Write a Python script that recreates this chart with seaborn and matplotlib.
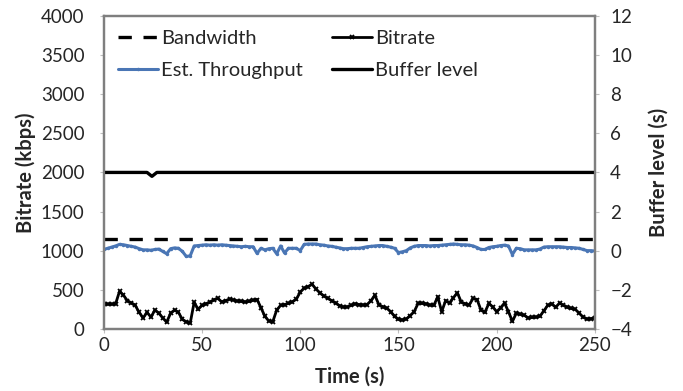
import numpy as np
import pandas as pd
import matplotlib
matplotlib.use("Agg")
import matplotlib.pyplot as plt
import seaborn as sns
from matplotlib.lines import Line2D

# ===== data =====
time_s = list(range(0, 251, 2))

bitrate = [315, 315, 315, 320, 480, 430, 360, 330, 300, 210, 140, 210, 150, 240, 200, 140,
           85, 200, 240, 210, 120, 90, 75, 340, 250, 300, 320, 340, 370, 390, 345, 360,
           380, 370, 355, 350, 345, 350, 365, 375, 270, 160, 100, 90, 240, 300, 310, 325,
           345, 380, 470, 520, 540, 570, 510, 460, 420, 390, 360, 330, 295, 280, 280, 300,
           320, 310, 305, 310, 360, 430, 310, 280, 265, 220, 160, 120, 115, 125, 170, 220,
           325, 325, 320, 305, 300, 410, 220, 360, 330, 400, 460, 340, 320, 305, 390, 375,
           240, 210, 325, 280, 220, 270, 330, 220, 95, 200, 185, 175, 140, 145, 150, 160,
           230, 300, 320, 275, 330, 300, 275, 260, 250, 200, 150, 125, 130, 140]

est_throughput = [1015, 1030, 1045, 1060, 1080, 1075, 1065, 1055, 1045, 1025, 1010, 1010,
                  1005, 1015, 1020, 990, 960, 1025, 1035, 1030, 990, 925, 935, 1060, 1065,
                  1070, 1075, 1070, 1075, 1070, 1075, 1070, 1065, 1060, 1055, 1050, 1055,
                  1050, 1050, 965, 1030, 1010, 1025, 1030, 960, 1060, 970, 1030, 1030, 1030,
                  1000, 1080, 1085, 1085, 1085, 1075, 1070, 1060, 1055, 1045, 1035, 1025,
                  1025, 1030, 1030, 1030, 1040, 1050, 1055, 1060, 1065, 1065, 1055, 1045,
                  1030, 975, 985, 1000, 1035, 1055, 1065, 1065, 1065, 1060, 1065, 1065,
                  1070, 1075, 1080, 1085, 1080, 1075, 1075, 1070, 1060, 1040, 1015, 1015,
                  1040, 1050, 1055, 1065, 1070, 1060, 950, 1030, 1025, 1010, 1010, 1010,
                  1010, 1020, 1045, 1050, 1050, 1050, 1050, 1045, 1040, 1040, 1035, 1030,
                  1015, 1000, 1000, 995]

bw_time = [0, 250]
bandwidth = [1150, 1150]

buf_time = [0, 22, 24.5, 27, 250]
buffer_level = [4, 4, 3.8, 4, 4]

df = pd.DataFrame({"Time": time_s, "Bitrate": bitrate, "Est": est_throughput})
df_bw = pd.DataFrame({"Time": bw_time, "Bandwidth": bandwidth})
df_buf = pd.DataFrame({"Time": buf_time, "Buffer": buffer_level})

# ===== style =====
sns.set_style("white")
plt.rcParams["font.family"] = ["Lato", "DejaVu Sans"]
blue = "#4a76b5"
spine_c = "#7f7f7f"
tick_fs = 13.5
lab_fs = 14.5

fig = plt.figure(figsize=(6.83, 3.91), dpi=100)
ax = fig.add_axes([0.152, 0.159, 0.719, 0.800])
ax2 = ax.twinx()

sns.lineplot(data=df_bw, x="Time", y="Bandwidth", ax=ax, color="black", lw=2.4,
             linestyle=(0, (4, 3.5)))
sns.lineplot(data=df, x="Time", y="Est", ax=ax, color=blue, lw=2.2,
             marker="o", markersize=2.5, markeredgewidth=0)
sns.lineplot(data=df, x="Time", y="Bitrate", ax=ax, color="black", lw=2,
             marker="x", markersize=3.5, markeredgewidth=1.3, markeredgecolor="black")
sns.lineplot(data=df_buf, x="Time", y="Buffer", ax=ax2, color="black", lw=2.4)

ax.set_xlim(0, 250)
ax.set_ylim(0, 4000)
ax.set_xticks(np.arange(0, 251, 50))
ax.set_yticks(np.arange(0, 4001, 500))
ax2.set_ylim(-4, 12)
ax2.set_yticks(np.arange(-4, 13, 2))

ax.set_xlabel("Time (s)", fontweight="bold", fontsize=lab_fs, labelpad=9)
ax.set_ylabel("Bitrate (kbps)", fontweight="bold", fontsize=lab_fs, labelpad=3)
ax2.set_ylabel("Buffer level (s)", fontweight="bold", fontsize=lab_fs, labelpad=12)

for a in (ax, ax2):
    for s in a.spines.values():
        s.set_color(spine_c)
        s.set_linewidth(1.6)
    a.tick_params(axis="both", length=3, width=0.8, color="#bfbfbf", labelsize=tick_fs,
                  direction="out")
ax.tick_params(axis="y", left=True, pad=11)
ax.tick_params(axis="x", bottom=True, pad=3)
ax2.tick_params(axis="y", right=True, pad=8)
ax.grid(False)
ax2.grid(False)

handles = [
    Line2D([], [], color="black", lw=2.4, linestyle=(0, (4, 3.5))),
    Line2D([], [], color=blue, lw=2.2, marker="o", markersize=2.5, markeredgewidth=0),
    Line2D([], [], color="black", lw=2, marker="x", markersize=3.5, markeredgewidth=1.3),
    Line2D([], [], color="black", lw=2.4),
]
labels = ["Bandwidth", "Est. Throughput", "Bitrate", "Buffer level"]
ax.legend(handles, labels, ncol=2, loc="upper left", frameon=False, fontsize=lab_fs,
          handlelength=2.0, handletextpad=0.15, columnspacing=1.45, labelspacing=0.72,
          borderaxespad=0.3, bbox_to_anchor=(0.0, 1.0))

fig.savefig("out.png", dpi=100)
